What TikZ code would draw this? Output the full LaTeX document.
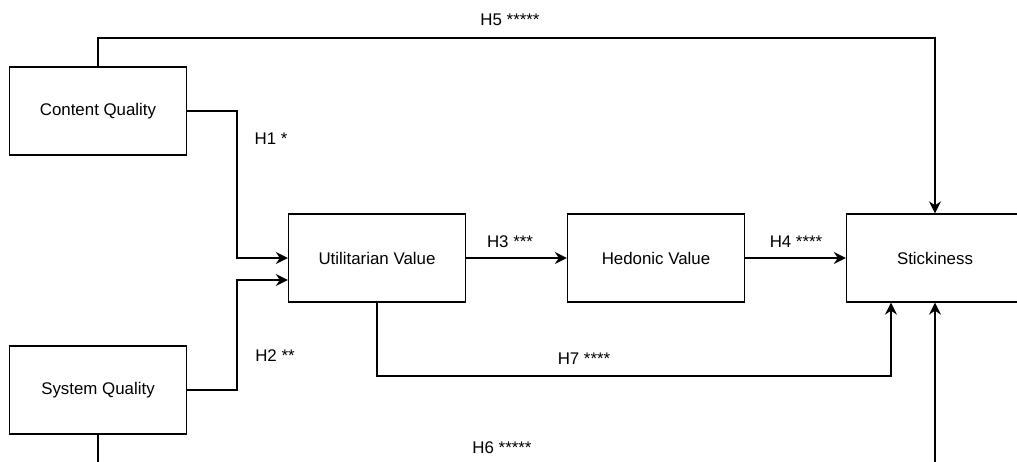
\documentclass[tikz,border=0pt]{standalone}
\usepackage{fontspec}
\setmainfont{Liberation Sans}
\usetikzlibrary{arrows.meta}

\begin{document}
\begin{tikzpicture}[x=0.02cm, y=-0.02cm,
    factor/.style={rectangle, draw, fill=white, line width=0.8pt, inner sep=0pt,
      minimum width=3.54cm, minimum height=1.76cm, font=\fontsize{9.6}{11}\selectfont},
    link/.style={line width=0.8pt, -{Stealth[length=2.4mm, width=2.4mm, inset=0.8mm]}},
    tag/.style={font=\fontsize{9.6}{11}\selectfont}]
  \useasboundingbox (0,0) rectangle (1017,462);
  \clip (0,0) rectangle (1017,462);
  \node[factor] (cq) at (98,111) {Content Quality};
  \node[factor] (sq) at (98,390) {System Quality};
  \node[factor] (uv) at (377,258) {Utilitarian Value};
  \node[factor] (hv) at (656,258) {Hedonic Value};
  \node[factor] (st) at (935,258) {Stickiness};
  % bends of the connectors
  \coordinate (h5top) at (935,38);
  \coordinate (h1bend) at (237,258);
  \coordinate (h2bend) at (237,280);
  \coordinate (h7bend) at (891,376);
  \coordinate (h6low) at (935,475);
  \draw[link] (cq.north) |- (h5top) -- (st.north);
  \draw[link] (cq.east) -| (h1bend) -- (uv.west);
  \draw[link] (sq.east) -| (h2bend) -- (h2bend -| uv.west);
  \draw[link] (uv) -- (hv);
  \draw[link] (hv) -- (st);
  \draw[link] (uv.south) |- (h7bend) -- (h7bend |- st.south);
  \draw[link] (sq.south) |- (h6low) -- (st.south);
  % labels
  \node[tag] (h5) at (510,20) {H5 *****};
  \node[tag] (h1) at (271,139) {H1 *};
  \node[tag] (h2) at (275,356) {H2 **};
  \node[tag] (h3) at (510,242) {H3 ***};
  \node[tag] (h4) at (796,242) {H4 ****};
  \node[tag] (h7) at (584,359) {H7 ****};
  \node[tag] (h6) at (502,448) {H6 *****};
\end{tikzpicture}
\end{document}
